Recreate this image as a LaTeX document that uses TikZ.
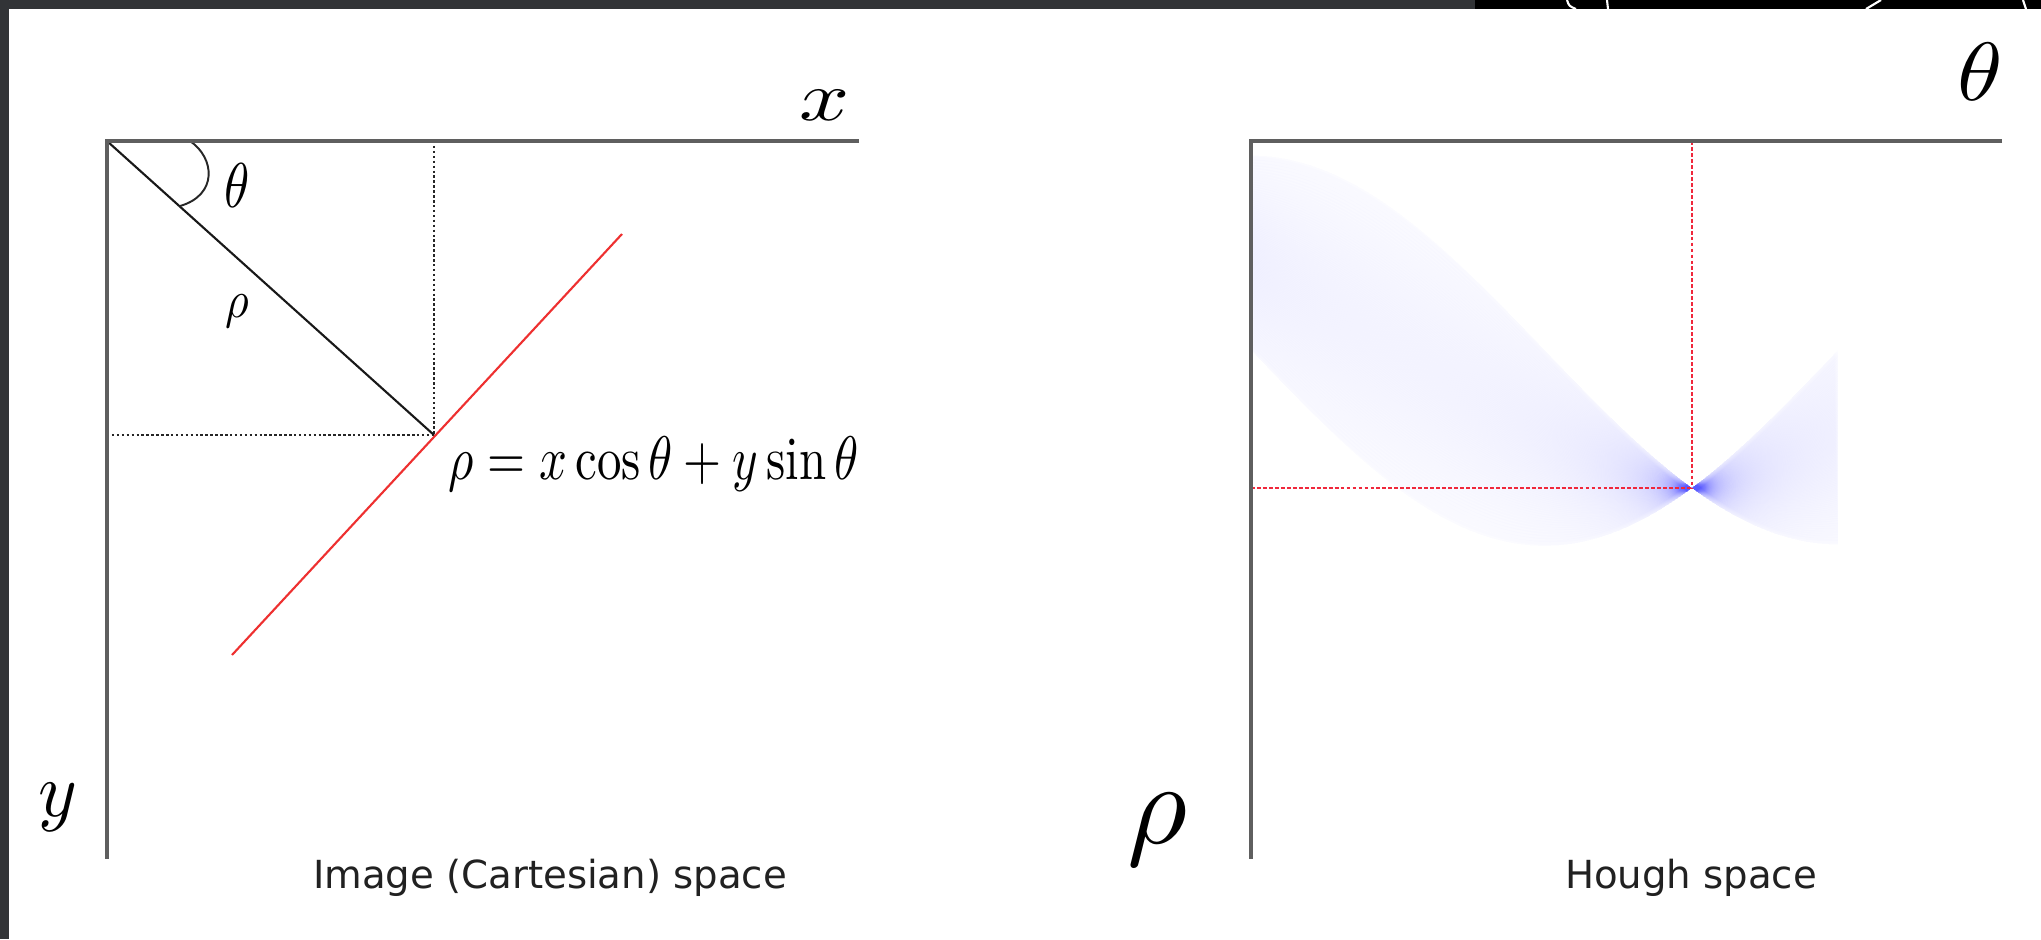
\documentclass[tikz,border=0pt]{standalone}
\usepackage{amsmath, amssymb}
\usepackage{fontspec}
\newfontfamily\capfont{DejaVu Sans}
\usepackage{tikz}
\usetikzlibrary{calc}

\definecolor{axisgray}{RGB}{95,95,95}
\definecolor{linered}{RGB}{238,48,48}
\definecolor{dotred}{RGB}{240,40,60}
\definecolor{frame}{RGB}{50,52,55}

\begin{document}
\begin{tikzpicture}[x=0.1mm, y=-0.1mm, every node/.style={inner sep=0pt},
    axis/.style={axisgray, line width=0.9pt},
    dots/.style={line width=0.6pt, dash pattern=on 0.7pt off 0.7pt},
    reddots/.style={dotred, line width=0.7pt, dash pattern=on 1.1pt off 0.6pt},
    band/.style={blue, line width=2.9pt, opacity=0.0095},
    caption/.style={font=\capfont\fontsize{11}{13}\selectfont, text=black!87, anchor=base}]
        \useasboundingbox (0,0) rectangle (2041,939);
        \fill[white] (0,0) rectangle (2041,939);

        % Frame
        \fill[frame] (0,0) rectangle (1475,9);
        \fill[frame] (0,0) rectangle (9,939);
        \fill[black] (1475,0) rectangle (2041,9);
        \draw[white, line width=0.6pt] (1567,0) .. controls (1569,6) .. (1576,9);
        \draw[white, line width=0.6pt] (1607,0) -- (1608,9);
        \draw[white, line width=0.6pt] (1881,0) -- (1866,9);
        \draw[white, line width=0.6pt] (2023,0) .. controls (2024,5) .. (2026,9);

        % Points, image space
        \coordinate (O) at (107,141);
        \coordinate (xend) at (859,141);
        \coordinate (yend) at (107,859);
        \coordinate (P) at (434,435);
        \coordinate (Px) at (434,141);
        \coordinate (Py) at (107,435);
        \coordinate (r1) at (232,655);
        \coordinate (r2) at (622,234);
        \coordinate (a1) at (190,141);
        \coordinate (a2) at (180,206);

        % Points, Hough space
        \coordinate (H) at (1251,141);
        \coordinate (thend) at (2002,141);
        \coordinate (rhoend) at (1251,859);
        \coordinate (C) at (1692,488);
        \coordinate (Ct) at (1692,141);
        \coordinate (Cl) at (1251,488);

        % Image space
        \draw[dots, black!85] (Px) -- (P);
        \draw[dots, black!85] (Py) -- (P);
        \draw[black!90, line width=0.6pt] (O) -- (P);
        \draw[linered, line width=0.6pt] (r1) -- (r2);
        \draw[black!85, line width=0.55pt] (a1) .. controls (215,158) and (218,195) .. (a2);
        \draw[axis] (xend) -- (O) -- (yend);

        % Hough space: sinusoids through C
        \begin{scope}
            \clip plot[domain=1251:1838, samples=60, variable=\t]
                    (\t, {350 + 138*cos((\t-1251)/587*180 - 180)/cos(-44.8)})
                -- plot[domain=1838:1251, samples=60, variable=\t]
                    (\t, {350 + 138*cos((\t-1251)/587*180 - 90)/cos(45.2)}) -- cycle;
            \foreach \p in {90,90.9,...,180.1} {
                \draw[band] plot[domain=1251:1838, samples=60, variable=\t]
                    (\t, {350 + 138*cos((\t-1251)/587*180 - \p)/cos(135.2-\p)});
            }
        \end{scope}
        \draw[reddots] (Ct) -- (C);
        \draw[reddots] (Cl) -- (C);
        \draw[axis] (thend) -- (H) -- (rhoend);

        % Labels
        \node (xlab) at (825,105) {\scalebox{2.5}[2.0]{$x$}};
        \node (ylab) at (58,807) {\scalebox{2.1}[2.2]{$y$}};
        \node (thlab) at (237,186) {\scalebox{1.45}[1.8]{$\theta$}};
        \node (rholab) at (237,311) {\scalebox{1.3}[1.5]{$\rho$}};
        \node (eq) at (654,464) {\scalebox{1.39}[1.75]{$\rho = x\cos\theta + y\sin\theta$}};
        \node (thaxis) at (1980,72) {\scalebox{2.6}[2.35]{$\theta$}};
        \node (rhoaxis) at (1157,830) {\scalebox{3.3}{$\rho$}};
        \node[caption] (cap1) at (550,888) {Image (Cartesian) space};
        \node[caption] (cap2) at (1691,888) {Hough space};
\end{tikzpicture}
\end{document}
